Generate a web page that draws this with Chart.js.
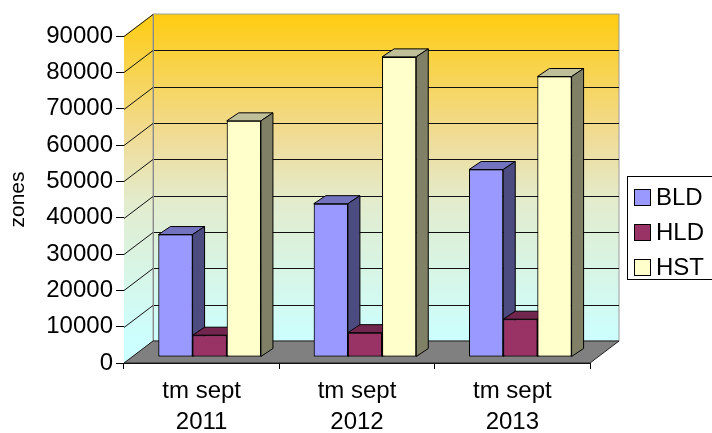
<!DOCTYPE html>
<html>
<head>
<meta charset="utf-8">
<script src="https://cdn.jsdelivr.net/npm/chart.js@4"></script>
<style>
    html, body { margin: 0; padding: 0; background: #fff; }
</style>
</head>
<body>
<canvas id="zonesChart" width="712" height="433"></canvas>
<script>
const categories = [['tm sept', '2011'], ['tm sept', '2012'], ['tm sept', '2013']];
const seriesNames = ['BLD', 'HLD', 'HST'];
const bldValues = [33700, 42200, 51600];
const hldValues = [6000, 6700, 10400];
const hstValues = [65000, 82600, 77200];
const yTickValues = [0, 10000, 20000, 30000, 40000, 50000, 60000, 70000, 80000, 90000];

// depth of the walls / floor and of each bar
const WALL_DX = 29, WALL_DY = -22;
const BAR_SHIFT_X = 8, BAR_SHIFT_Y = -6;
const BAR_DX = 12, BAR_DY = -8;

const FONT = 'Arial, "Liberation Sans", sans-serif';

function poly(ctx, pts, fill, stroke) {
    ctx.beginPath();
    ctx.moveTo(pts[0][0], pts[0][1]);
    for (let i = 1; i < pts.length; i++) ctx.lineTo(pts[i][0], pts[i][1]);
    ctx.closePath();
    if (fill) { ctx.fillStyle = fill; ctx.fill(); }
    if (stroke) { ctx.strokeStyle = stroke; ctx.lineWidth = 1; ctx.stroke(); }
}

const threeD = {
    id: 'threeD',
    beforeDatasetsDraw(chart) {
        const { ctx, chartArea: a, scales: { y } } = chart;
        const top = y.getPixelForValue(yTickValues[yTickValues.length - 1]);
        const bottom = y.getPixelForValue(0);

        const grad = ctx.createLinearGradient(0, top + WALL_DY, 0, bottom + WALL_DY);
        grad.addColorStop(0, '#FFCC11');
        grad.addColorStop(0.38, '#F0DC98');
        grad.addColorStop(0.58, '#E2ECCE');
        grad.addColorStop(1, '#CCFFFF');

        ctx.save();
        // side wall
        poly(ctx, [[a.left, top], [a.left + WALL_DX, top + WALL_DY],
                   [a.left + WALL_DX, bottom + WALL_DY], [a.left, bottom]], grad);
        // back wall
        poly(ctx, [[a.left + WALL_DX, top + WALL_DY], [a.right + WALL_DX, top + WALL_DY],
                   [a.right + WALL_DX, bottom + WALL_DY], [a.left + WALL_DX, bottom + WALL_DY]], grad, '#9a9a9a');

        // gridlines
        ctx.lineWidth = 1;
        yTickValues.forEach((v, i) => {
            const py = Math.round(y.getPixelForValue(v)) + 0.5;
            ctx.strokeStyle = '#111';
            ctx.beginPath();
            ctx.moveTo(a.left, py);
            ctx.lineTo(a.left + WALL_DX, py + WALL_DY);
            if (i > 0 && i < yTickValues.length - 1) ctx.lineTo(a.right + WALL_DX, py + WALL_DY);
            ctx.stroke();
        });
        ctx.strokeStyle = '#8a8a8a';
        ctx.beginPath();
        ctx.moveTo(a.left + WALL_DX + 0.5, top + WALL_DY);
        ctx.lineTo(a.left + WALL_DX + 0.5, bottom + WALL_DY);
        ctx.stroke();

        // floor
        poly(ctx, [[a.left, bottom], [a.right, bottom], [a.right + WALL_DX, bottom + WALL_DY],
                   [a.left + WALL_DX, bottom + WALL_DY]], '#808080', '#222');
        ctx.restore();

        // bars sit a little behind the front plane
        ctx.save();
        ctx.translate(BAR_SHIFT_X, BAR_SHIFT_Y);
    },
    afterDatasetsDraw(chart) {
        // redraw bars left to right so each front face covers the previous side face
        const ctx = chart.ctx;
        chart.data.datasets.forEach((ds, i) => {
            chart.getDatasetMeta(i).data.forEach(el => {
                el.draw(ctx);
                const { x, y, base, width } = el.getProps(['x', 'y', 'base', 'width'], true);
                const l = x - width / 2, r = x + width / 2;
                poly(ctx, [[l, y], [r, y], [r + BAR_DX, y + BAR_DY], [l + BAR_DX, y + BAR_DY]], ds.topColor, '#000');
                poly(ctx, [[r, y], [r + BAR_DX, y + BAR_DY], [r + BAR_DX, base + BAR_DY], [r, base]], ds.sideColor, '#000');
            });
        });
        ctx.restore();
    },
    afterDraw(chart) {
        // legend box
        const ctx = chart.ctx;
        ctx.save();
        ctx.strokeStyle = '#000';
        ctx.lineWidth = 1;
        ctx.strokeRect(627.5, 176.5, 100, 103);
        chart.data.datasets.forEach((ds, i) => {
            const cy = 197 + i * 35;
            ctx.fillStyle = ds.backgroundColor;
            ctx.fillRect(634, cy - 8, 17, 17);
            ctx.strokeRect(634.5, cy - 7.5, 16, 16);
            ctx.fillStyle = '#000';
            ctx.font = '24px ' + FONT;
            ctx.textBaseline = 'middle';
            ctx.fillText(ds.label, 656, cy + 1);
        });
        ctx.restore();
    }
};

const datasets = [
    { label: seriesNames[0], data: bldValues, backgroundColor: '#9999FF', topColor: '#7373BF', sideColor: '#4C4C80' },
    { label: seriesNames[1], data: hldValues, backgroundColor: '#993366', topColor: '#73264D', sideColor: '#4C1933' },
    { label: seriesNames[2], data: hstValues, backgroundColor: '#FFFFCC', topColor: '#BFBF99', sideColor: '#808066' }
].map(d => Object.assign(d, {
    borderColor: '#000',
    borderWidth: 1,
    borderSkipped: false,
    barPercentage: 1.0,
    categoryPercentage: 0.66,
    clip: false
}));

new Chart(document.getElementById('zonesChart'), {
    type: 'bar',
    data: { labels: categories, datasets: datasets },
    options: {
        responsive: false,
        animation: false,
        layout: { padding: { top: 36, right: 122, left: 0, bottom: 0 } },
        plugins: { legend: { display: false }, tooltip: { enabled: false } },
        scales: {
            x: {
                grid: { drawOnChartArea: false, tickLength: 6, color: '#000', offset: true },
                border: { color: '#000' },
                ticks: { color: '#000', font: { family: FONT, size: 24, lineHeight: 1.3 }, maxRotation: 0, autoSkip: false, padding: 7 },
                afterFit: s => { s.height = 70; }
            },
            y: {
                min: 0,
                max: 90000,
                grid: { drawOnChartArea: false, tickLength: 8, color: '#000' },
                border: { color: '#000' },
                ticks: { stepSize: 10000, color: '#000', padding: 3, font: { family: FONT, size: 24 }, callback: v => String(v) },
                title: { display: true, text: 'zones', color: '#000', font: { family: FONT, size: 21 }, padding: { top: 6, bottom: 0 } },
                afterFit: s => { s.width = 124; }
            }
        }
    },
    plugins: [threeD]
});
</script>
</body>
</html>
